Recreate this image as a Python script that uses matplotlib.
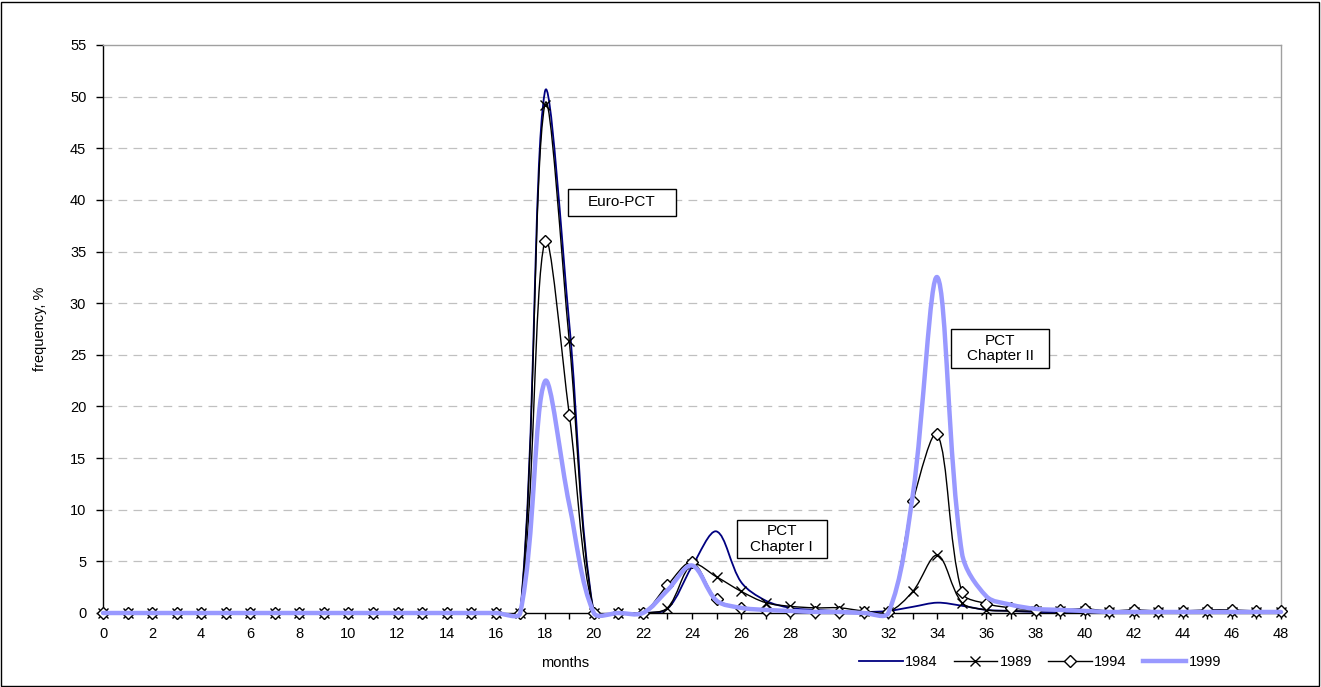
import numpy as np
import matplotlib
matplotlib.use("Agg")
import matplotlib.pyplot as plt
from matplotlib.path import Path
from matplotlib.patches import PathPatch, Rectangle
from matplotlib.lines import Line2D

plt.rcParams['font.family'] = ['Liberation Sans', 'DejaVu Sans']

# months 0..48
months = list(range(49))

# frequency, %
f1984 = [0]*18 + [50.4, 28.0, 0, 0, 0, 0.4, 4.5, 7.9, 3.0, 1.2, 0.5, 0.3, 0.2, 0.1,
                  0.2, 0.6, 1.0, 0.7, 0.3, 0.2, 0.1, 0.1, 0.1, 0.1, 0.1, 0.1, 0.1,
                  0.1, 0.1, 0.1, 0.1]
f1989 = [0]*18 + [49.2, 26.3, 0, 0, 0, 0.5, 4.7, 3.5, 2.1, 1.0, 0.65, 0.5, 0.5, 0.2,
                  0.1, 2.1, 5.6, 1.0, 0.3, 0.2, 0.2, 0.2, 0.2, 0.1, 0.1, 0.1, 0.1,
                  0.1, 0.1, 0.1, 0.1]
f1994 = [0]*18 + [36.0, 19.2, 0, 0, 0, 2.7, 4.9, 1.35, 0.5, 0.3, 0.2, 0.1, 0.1, 0.1,
                  0.1, 10.8, 17.3, 2.0, 0.9, 0.5, 0.3, 0.3, 0.4, 0.2, 0.3, 0.2, 0.2,
                  0.3, 0.3, 0.2, 0.2]
f1999 = [0]*18 + [22.4, 10.5, 0, 0, 0, 2.2, 4.6, 1.2, 0.5, 0.3, 0.2, 0.1, 0.1, 0.0,
                  0.0, 11.5, 32.5, 5.8, 1.6, 0.8, 0.4, 0.3, 0.2, 0.1, 0.1, 0.1, 0.1,
                  0.1, 0.1, 0.1, 0.1]

years = ['1984', '1989', '1994', '1999']

# pixel size of one unit on each axis, used for the smoothing weights
XPX = 1178 / 48.0
YPX = 568 / 55.0


def smooth_path(x, y, t=1/3.0):
    # excel-like smoothed line: bezier segments, control arms scaled
    # by the neighbouring segment lengths (measured on screen)
    pts = np.column_stack([np.asarray(x) * XPX, np.asarray(y) * YPX]).astype(float)
    n = len(pts)
    before = np.zeros_like(pts)
    after = np.zeros_like(pts)
    for i in range(n):
        p0 = pts[i - 1] if i > 0 else pts[i]
        p2 = pts[i + 1] if i < n - 1 else pts[i]
        d = p2 - p0
        l1 = np.hypot(*(pts[i] - p0))
        l2 = np.hypot(*(p2 - pts[i]))
        tot = l1 + l2
        if tot == 0:
            continue
        before[i] = -d * t * l1 / tot
        after[i] = d * t * l2 / tot
    verts = [pts[0]]
    codes = [Path.MOVETO]
    for i in range(n - 1):
        verts += [pts[i] + after[i], pts[i + 1] + before[i + 1], pts[i + 1]]
        codes += [Path.CURVE4] * 3
    verts = np.array(verts)
    verts[:, 0] /= XPX
    verts[:, 1] /= YPX
    return Path(verts, codes)


fig = plt.figure(figsize=(13.21, 6.87), dpi=100)
ax = fig.add_axes([103/1321, 1 - 613/687, 1178/1321, 568/687])

ax.set_xlim(0, 48)
ax.set_ylim(0, 55)

for v in range(5, 55, 5):
    ax.axhline(v, color='#c0c0c0', lw=0.9, ls=(0, (7, 5)), zorder=0)

styles = [
    dict(color='#000080', lw=1.3, marker=None),
    dict(color='black', lw=1.0, marker='x'),
    dict(color='black', lw=1.0, marker='D'),
    dict(color='#9999ff', lw=3.2, marker=None),
]
series = [f1984, f1989, f1994, f1999]

handles = []
for k, (yr, vals, st) in enumerate(zip(years, series, styles)):
    p = PathPatch(smooth_path(months, vals), fill=False, edgecolor=st['color'],
                  lw=st['lw'], zorder=2 + k, clip_on=False, capstyle='round',
                  joinstyle='round')
    ax.add_patch(p)
    if st['marker'] == 'x':
        ax.plot(months, vals, ls='none', marker='x', ms=7.5, mew=1.0,
                color='black', zorder=2 + k, clip_on=False)
        h = Line2D([], [], color='black', lw=1.0, marker='x', ms=7.5)
    elif st['marker'] == 'D':
        ax.plot(months, vals, ls='none', marker='D', ms=6, mew=1.0,
                mfc='white', mec='black', zorder=2 + k, clip_on=False)
        h = Line2D([], [], color='black', lw=1.0, marker='D', ms=6,
                   mfc='white', mec='black')
    else:
        h = Line2D([], [], color=st['color'], lw=st['lw'])
    handles.append(h)

# axes look
ax.spines['left'].set_color('black')
ax.spines['bottom'].set_color('black')
ax.spines['top'].set_color('#a0a0a0')
ax.spines['right'].set_color('#a0a0a0')
for s in ax.spines.values():
    s.set_linewidth(1.0)

ax.set_yticks(range(0, 56, 5))
ax.set_xticks(range(0, 49, 2))
ax.set_xticks(range(0, 49), minor=True)
ax.tick_params(axis='y', direction='out', length=5, width=1, pad=7,
               labelsize=10.5)
ax.tick_params(axis='x', which='both', direction='out', length=4, width=1,
               pad=6, labelsize=10.5)
ax.tick_params(top=False, right=False)

fig.text(40/1321, 1 - 329/687, 'frequency, %', rotation=90, ha='center',
         va='center', fontsize=10.5)
fig.text(565/1321, 1 - 663/687, 'months', ha='center', va='center',
         fontsize=10.5)

fig.legend(handles, years, loc='center', bbox_to_anchor=(1040/1321, 1 - 662/687),
           ncol=4, frameon=False, fontsize=10.5, handlelength=3.0,
           handletextpad=0.15, columnspacing=1.1)

# label boxes (axes fraction)
boxes = [
    ('Euro-PCT', 0.3947, 0.699, 0.0917, 0.0475),
    ('PCT\nChapter I', 0.538, 0.0968, 0.0764, 0.0669),
    ('PCT\nChapter II', 0.7199, 0.4313, 0.0832, 0.0687),
]
for txt, x0, y0, w, h in boxes:
    ax.add_patch(Rectangle((x0, y0), w, h, transform=ax.transAxes,
                           facecolor='white', edgecolor='black', lw=1.0,
                           zorder=10))
    ax.text(x0 + w / 2, y0 + h / 2, txt, transform=ax.transAxes, ha='center',
            va='center', fontsize=11, linespacing=1.1, zorder=11)

# outer border
fig.patches.append(Rectangle((1/1321, 1/687), 1318/1321, 684/687,
                             transform=fig.transFigure, fill=False,
                             edgecolor='black', lw=1.0))

fig.savefig('out.png', dpi=100)
